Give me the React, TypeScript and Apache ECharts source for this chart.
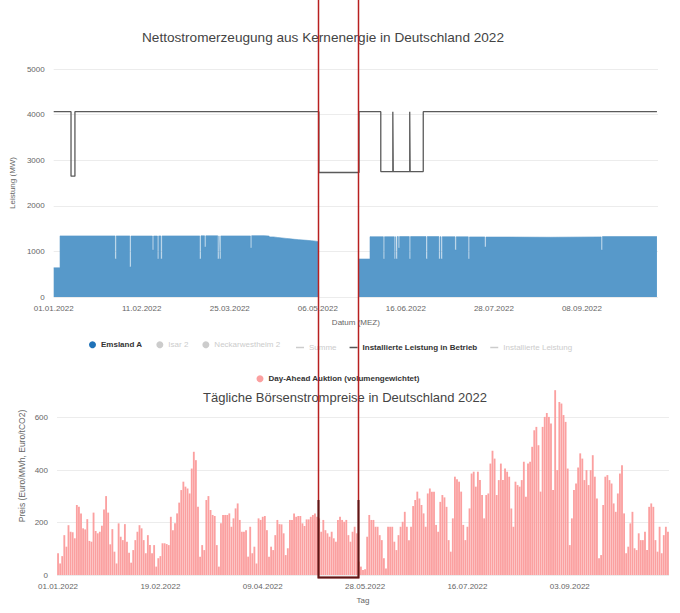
import React, { useEffect, useRef } from "react";
import * as echarts from "echarts";

// ---------- data ----------
// Emsland A net generation (MW): value holds from the given day (offset from 01.01.2022) to the next one
const emslandDays = [0, 3, 29.0, 29.6, 36.0, 36.6, 46.7, 47.3, 49.1, 49.7, 50.7, 51.3, 69.1, 69.7, 71.4, 72.0, 77.6, 78.2, 78.5, 79.1, 93.1, 93.7, 99.6, 102, 104, 106, 108, 110, 112, 114, 116, 118, 120, 122, 124, 125.5, 125.6,
  144.5, 149.7, 156.0, 156.6, 161.2, 161.8, 162.0, 162.6, 163.1, 163.7, 168.3, 168.9, 176.2, 176.8, 182.3, 182.9, 183.3, 183.9, 189.9, 190.5, 196.2, 196.8, 204.0, 204.6, 215, 235, 259.1, 259.7, 285.5];
const emslandMW = [640, 1340, 833, 1340, 658, 1338, 1030, 1338, 833, 1340, 833, 1340, 833, 1342, 1096, 1342, 833, 1340, 833, 1340, 1075, 1345, 1335, 1318, 1305, 1295, 1285, 1275, 1265, 1258, 1250, 1242, 1234, 1225, 1212, 1200, null,
  833, 1322, 833, 1322, 833, 1325, 833, 1325, 1075, 1325, 833, 1325, 833, 1325, 833, 1322, 833, 1322, 1030, 1320, 833, 1318, 1096, 1315, 1310, 1318, 1030, 1325, 1330];

// Installed capacity in operation (MW)
const installedDays = [0, 8.2, 10.05, 125.5, 144.5, 154.8, 160.5, 160.7, 168.5, 168.7, 174.9, 285.5];
const installedMW = [4065, 2650, 4065, 2730, 4065, 2750, 4065, 2750, 4065, 2750, 4065, 4065];

// Daily day-ahead prices (Euro/MWh) from 01.01.2022
const pricesJanToMay = [
  83, 44, 72, 152, 108, 190, 165, 163, 140, 267, 260, 235, 178, 174, 213, 130, 127, 238, 168,
  159, 165, 188, 250, 301, 238, 117, 175, 89, 44, 197, 146, 133, 194, 127, 85, 47, 95, 133, 165, 190, 178, 133, 83,
  152, 114, 83, 114, 32, 64, 72, 121, 121, 118, 114, 222, 171, 197, 235, 276, 324, 356, 337, 330, 311, 406, 470, 438, 260, 70, 114, 95, 286, 301, 248, 229, 225, 114,
  32, 197, 229, 229, 229, 235, 184, 216, 254, 273, 210, 165, 165, 171, 70, 184, 83, 108, 44,
  216, 210, 222, 225, 171, 70, 108, 95, 152, 210, 194, 193, 159, 76, 102, 210, 210, 235, 222, 225, 225, 197, 187, 212, 212,
  222, 229, 235, 222,
  216, 165, 210, 171, 159, 146, 165, 140, 127, 210, 222, 210, 203, 210, 152, 127, 165, 184, 159,
];
const pricesMayToOct = [
  51, 32, 19, 22, 146, 229, 210, 210, 184, 184,
  152, 133, 64, 25, 184, 184, 184, 127, 95,
  152, 184, 203, 241, 184, 133, 184, 263, 286, 318,
  292, 267, 235, 184, 311, 330, 318, 318, 191,
  165, 279, 305, 296, 260, 133, 89, 216, 375, 365,
  356, 318, 191, 133, 184, 254, 387, 394, 337, 394,
  362, 305, 216, 305, 311, 425, 474, 444, 305,
  362, 425, 362, 406, 394, 375, 254, 184, 356, 343,
  337, 362, 432, 298, 425, 432, 489, 552, 565,
  495, 318, 565, 603, 618, 603, 578, 324, 705, 400,
  660, 654, 610, 584, 406, 114, 216, 324, 349, 410,
  464, 444, 362, 400, 343, 400, 457, 375, 292,
  64, 76, 267, 375, 381, 362, 349, 273, 241,
  311, 387, 419, 235, 83, 108, 197, 241, 102, 95,
  159, 133, 133, 165, 95, 260, 273, 260, 133, 89,
  184, 83, 152, 184, 165,
];

const topLegendDots = ["Emsland A", "Isar 2", "Neckarwestheim 2"];
const topLegendLines = ["Summe", "Installierte Leistung in Betrieb", "Installierte Leistung"];
const priceName = "Day-Ahead Auktion (volumengewichtet)";

const START = Date.UTC(2022, 0, 1);
const DAY = 86400000;
const fmtDate = (d: number) => {
  const dt = new Date(START + Math.floor(d + 1e-6) * DAY);
  const dd = String(dt.getUTCDate()).padStart(2, "0");
  const mm = String(dt.getUTCMonth() + 1).padStart(2, "0");
  return `${dd}.${mm}.${dt.getUTCFullYear()}`;
};

const FONT = '"Liberation Sans", Arial, sans-serif';

export default function App() {
  const ref = useRef<HTMLDivElement>(null);
  useEffect(() => {
    if (!ref.current) return;
    const chart = echarts.init(ref.current, undefined, { renderer: "svg" });

    const prices = [...pricesJanToMay, ...pricesMayToOct];
    const priceDays = prices.map((_, i) => fmtDate(i));
    const emslandData = emslandDays.map((d, i) => [d, emslandMW[i] === null ? "-" : emslandMW[i]]);
    const installedData = installedDays.map((d, i) => [d, installedMW[i]]);

    const labelStyle = { fontSize: 8, color: "#666", fontFamily: FONT };
    const activeText = { fontWeight: "bold" as const, color: "#333" };
    const inactiveText = { fontWeight: "normal" as const };
    const plain = (v: number) => String(v);

    chart.setOption({
      animation: false,
      textStyle: { fontFamily: FONT },
      title: [
        {
          text: "Nettostromerzeugung aus Kernenergie in Deutschland 2022",
          left: 142, top: 30, padding: 0,
          textStyle: { fontSize: 13.6, fontWeight: "normal", color: "#444", fontFamily: FONT },
        },
        {
          text: "Tägliche Börsenstrompreise in Deutschland 2022",
          left: 203, top: 391, padding: 0,
          textStyle: { fontSize: 13, fontWeight: "normal", color: "#444", fontFamily: FONT },
        },
      ],
      legend: [
        {
          left: 89, top: 340.8, padding: 0, itemWidth: 7, itemHeight: 7, itemGap: 14,
          inactiveColor: "#ccc",
          textStyle: { fontSize: 8, fontFamily: FONT, color: "#333" },
          data: topLegendDots.map((n, i) => ({ name: n, icon: "circle", textStyle: i === 0 ? activeText : inactiveText })),
          selected: { "Isar 2": false, "Neckarwestheim 2": false },
        },
        {
          left: 296, top: 343.5, padding: 0, itemWidth: 8, itemHeight: 1.5, itemGap: 13,
          inactiveColor: "#ccc",
          textStyle: { fontSize: 8, fontFamily: FONT, color: "#333" },
          data: topLegendLines.map((n, i) => ({ name: n, icon: "rect", textStyle: i === 1 ? activeText : inactiveText })),
          selected: { Summe: false, "Installierte Leistung": false },
        },
        {
          left: 256.5, top: 374.8, padding: 0, itemWidth: 7, itemHeight: 7,
          textStyle: { fontSize: 8, fontFamily: FONT, color: "#333", fontWeight: "bold" },
          data: [{ name: priceName, icon: "circle" }],
        },
      ],
      grid: [
        { left: 52, right: 22, top: 69, bottom: 316 },
        { left: 57, right: 11, top: 417.7, bottom: 38 },
      ],
      xAxis: [
        {
          type: "value", gridIndex: 0, min: 0, max: 286, interval: 1000 / 24,
          axisLine: { show: false }, axisTick: { show: false }, splitLine: { show: false },
          axisLabel: { ...labelStyle, margin: 7, showMaxLabel: false, formatter: (v: number) => fmtDate(v) },
          name: "Datum (MEZ)", nameLocation: "middle", nameGap: 21,
          nameTextStyle: { fontSize: 8, color: "#666", fontFamily: FONT },
        },
        {
          type: "category", gridIndex: 1, data: priceDays, boundaryGap: true,
          axisLine: { show: false }, axisTick: { show: false },
          axisLabel: { ...labelStyle, margin: 7, interval: 48 },
          name: "Tag", nameLocation: "middle", nameGap: 21,
          nameTextStyle: { fontSize: 8, color: "#666", fontFamily: FONT },
        },
      ],
      yAxis: [
        {
          type: "value", gridIndex: 0, min: 0, max: 5000, interval: 1000,
          axisLine: { show: false }, axisTick: { show: false },
          axisLabel: { ...labelStyle, margin: 9, formatter: plain },
          splitLine: { lineStyle: { color: "#ececec" } },
          name: "Leistung (MW)", nameLocation: "middle", nameGap: 31,
          nameTextStyle: { fontSize: 8, color: "#666", fontFamily: FONT },
        },
        {
          type: "value", gridIndex: 1, min: 0, max: 600, interval: 200,
          axisLine: { show: false }, axisTick: { show: false },
          axisLabel: { ...labelStyle, margin: 9, formatter: plain },
          splitLine: { lineStyle: { color: "#ececec" } },
        },
      ],
      series: [
        {
          name: "Emsland A", type: "line", xAxisIndex: 0, yAxisIndex: 0, step: "end", symbol: "none",
          data: emslandData, connectNulls: false,
          itemStyle: { color: "#1f72b8" },
          lineStyle: { width: 0.6, color: "#5799ca" },
          areaStyle: { color: "#5799ca", opacity: 1 },
          z: 2,
        },
        { name: "Isar 2", type: "line", xAxisIndex: 0, yAxisIndex: 0, data: [], itemStyle: { color: "#999" } },
        { name: "Neckarwestheim 2", type: "line", xAxisIndex: 0, yAxisIndex: 0, data: [], itemStyle: { color: "#999" } },
        { name: "Summe", type: "line", xAxisIndex: 0, yAxisIndex: 0, data: [], itemStyle: { color: "#999" } },
        {
          name: "Installierte Leistung in Betrieb", type: "line", xAxisIndex: 0, yAxisIndex: 0, step: "end", symbol: "none",
          data: installedData,
          itemStyle: { color: "#555" },
          lineStyle: { width: 1.3, color: "#5a5a5a" },
          z: 3,
        },
        { name: "Installierte Leistung", type: "line", xAxisIndex: 0, yAxisIndex: 0, data: [], itemStyle: { color: "#999" } },
        {
          name: priceName, type: "bar", xAxisIndex: 1, yAxisIndex: 1, data: prices,
          itemStyle: { color: "#fba0a0" }, barCategoryGap: "12%", clip: false,
        },
      ],
      graphic: [
        {
          type: "text", x: 22, y: 466, rotation: Math.PI / 2,
          style: { text: "Preis (Euro/MWh, Euro/tCO2)", fill: "#666", font: `8.5px ${FONT}`, align: "center", verticalAlign: "middle" },
        },
        {
          type: "polyline", z: 100,
          shape: { points: [[318.5, -5], [318.5, 577.5], [358.5, 577.5], [358.5, -5]] },
          style: { stroke: "#b82020", lineWidth: 1.5, fill: null },
        },
        {
          type: "polyline", z: 101,
          shape: { points: [[318.5, 500], [318.5, 577.5], [358.5, 577.5], [358.5, 500]] },
          style: { stroke: "#5e1616", lineWidth: 2, fill: null },
        },
      ],
    });
    return () => chart.dispose();
  }, []);
  return <div ref={ref} style={{ position: "absolute", left: 0, top: 0, width: 680, height: 613 }} />;
}
